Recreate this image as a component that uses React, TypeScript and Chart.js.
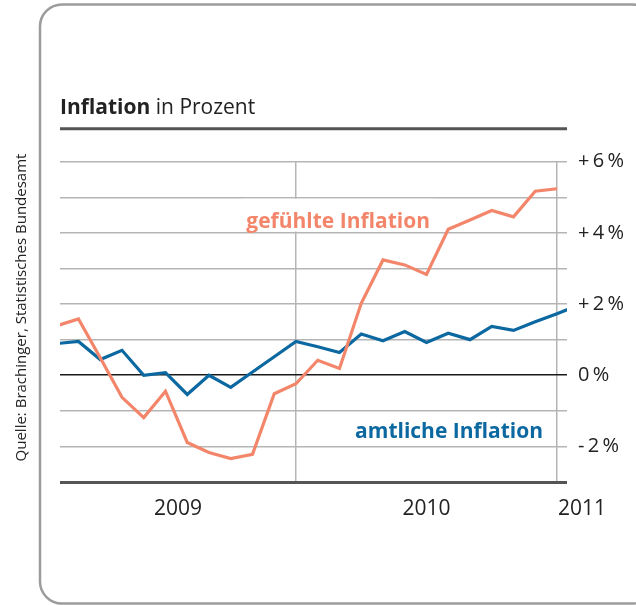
import React, { useEffect, useRef } from 'react';
import { Chart, registerables } from 'chart.js';

Chart.register(...registerables);

// ---- data ----
const months = [
  'Jan 2009', 'Feb 2009', 'Mär 2009', 'Apr 2009', 'Mai 2009', 'Jun 2009',
  'Jul 2009', 'Aug 2009', 'Sep 2009', 'Okt 2009', 'Nov 2009', 'Dez 2009',
  'Jan 2010', 'Feb 2010', 'Mär 2010', 'Apr 2010', 'Mai 2010', 'Jun 2010',
  'Jul 2010', 'Aug 2010', 'Sep 2010', 'Okt 2010', 'Nov 2010', 'Dez 2010',
  'Jan 2011',
];

const amtlicheInflation = [
  0.89, 0.95, 0.44, 0.70, 0.0, 0.07, -0.54, 0.0, -0.34, 0.09, 0.52, 0.95,
  0.80, 0.64, 1.16, 0.97, 1.23, 0.92, 1.18, 1.0, 1.37, 1.26, 1.50, 1.73, 1.97,
];

const gefuehlteInflation = [
  1.39, 1.58, 0.49, -0.62, -1.19, -0.45, -1.89, -2.17, -2.34, -2.22, -0.52, -0.24,
  0.42, 0.19, 2.02, 3.24, 3.10, 2.83, 4.10, 4.36, 4.63, 4.45, 5.17, 5.24,
];

const yTickValues = [6, 4, 2, 0, -2];
const yTickLabels = ['+6%', '+4%', '+2%', '0%', '-2%'];

const yearLabels = ['2009', '2010', '2011'];
const yearBoundaries = [11, 23]; // month indices of vertical year lines

const titleBold = 'Inflation';
const titleRest = ' in Prozent';
const sourceText = 'Quelle: Brachinger, Statistisches Bundesamt';
const labelGefuehlt = 'gefühlte Inflation';
const labelAmtlich = 'amtliche Inflation';

// ---- style ----
const ORANGE = '#F3866A';
const BLUE = '#0B68A0';
const GRID = '#b5b5b5';
const DARK = '#222222';
const FONT = '"Open Sans", "Noto Sans", sans-serif';

const X_MIN = 0.15;
const X_MAX = 23.46;

const spaced = (s: string) => s.split('').join('\u2009');

const decorPlugin = {
  id: 'decor',
  beforeDraw(chart: any) {
    const { ctx, chartArea: a } = chart;
    ctx.save();
    ctx.fillStyle = '#ffffff';
    ctx.fillRect(0, 0, chart.width, chart.height);

    // rounded frame
    ctx.strokeStyle = '#9c9c9c';
    ctx.lineWidth = 2.5;
    ctx.beginPath();
    (ctx as any).roundRect(40, 4.5, 614, 599, 22);
    ctx.stroke();

    // title
    ctx.fillStyle = DARK;
    ctx.textBaseline = 'alphabetic';
    ctx.textAlign = 'left';
    ctx.font = `bold 21px ${FONT}`;
    ctx.fillText(titleBold, a.left, a.top - 48);
    const w = ctx.measureText(titleBold).width;
    ctx.font = `21px ${FONT}`;
    ctx.fillText(titleRest, a.left + w, a.top - 48);

    // title rule
    ctx.strokeStyle = '#555555';
    ctx.lineWidth = 3;
    ctx.beginPath();
    ctx.moveTo(a.left, a.top - 33);
    ctx.lineTo(a.right, a.top - 33);
    ctx.stroke();

    // source, rotated
    ctx.translate(22, 307.5);
    ctx.rotate(-Math.PI / 2);
    ctx.font = `15px ${FONT}`;
    ctx.textAlign = 'center';
    ctx.textBaseline = 'middle';
    ctx.fillStyle = DARK;
    ctx.fillText(sourceText, 0, 0);
    ctx.restore();
  },
  beforeDatasetsDraw(chart: any) {
    const { ctx } = chart;
    const xs = chart.scales.x;
    const ys = chart.scales.y;
    ctx.save();
    ctx.font = `bold 21px ${FONT}`;
    ctx.textAlign = 'right';
    ctx.textBaseline = 'alphabetic';

    // gefühlte label with white box
    const gx = xs.getPixelForValue(17.16);
    const gy = ys.getPixelForValue(4.14);
    const gw = ctx.measureText(labelGefuehlt).width;
    const boxTop = ys.getPixelForValue(5) + 1.5;
    const boxBot = ys.getPixelForValue(4) - 1.5;
    ctx.fillStyle = '#ffffff';
    ctx.fillRect(gx - gw - 4, boxTop, gw + 8, boxBot - boxTop);
    ctx.fillStyle = ORANGE;
    ctx.fillText(labelGefuehlt, gx, gy);

    // amtliche label
    const ax = xs.getPixelForValue(22.36);
    const ay = ys.getPixelForValue(-1.76);
    ctx.fillStyle = BLUE;
    ctx.fillText(labelAmtlich, ax, ay);
    ctx.restore();
  },
  afterDraw(chart: any) {
    const { ctx } = chart;
    const xs = chart.scales.x;
    const a = chart.chartArea;
    ctx.save();
    ctx.font = `21px ${FONT}`;
    ctx.fillStyle = DARK;
    ctx.textBaseline = 'alphabetic';
    const bounds = [X_MIN, ...yearBoundaries];
    yearLabels.forEach((lab, i) => {
      const from = bounds[i];
      const to = bounds[i + 1];
      if (to !== undefined) {
        ctx.textAlign = 'center';
        ctx.fillText(lab, xs.getPixelForValue((from + to) / 2), a.bottom + 33);
      } else {
        ctx.textAlign = 'left';
        ctx.fillText(lab, xs.getPixelForValue(from) + 1, a.bottom + 33);
      }
    });
    ctx.restore();
  },
};

export default function App() {
  const ref = useRef<HTMLCanvasElement | null>(null);

  useEffect(() => {
    if (!ref.current) return;
    const chart = new Chart(ref.current, {
      type: 'line',
      data: {
        datasets: [
          {
            label: labelGefuehlt,
            data: gefuehlteInflation.map((v, i) => ({ x: i, y: v })),
            borderColor: ORANGE,
            borderWidth: 3.2,
            pointRadius: 0,
            tension: 0,
            clip: 0,
          },
          {
            label: labelAmtlich,
            data: amtlicheInflation.map((v, i) => ({ x: i, y: v })),
            borderColor: BLUE,
            borderWidth: 3.2,
            pointRadius: 0,
            tension: 0,
            clip: 0,
          },
        ],
      },
      options: {
        animation: false,
        responsive: false,
        devicePixelRatio: 1,
        layout: { padding: { left: 60, top: 161.7, bottom: 123, right: 0 } },
        plugins: {
          legend: { display: false },
          tooltip: { enabled: false },
          title: { display: false },
        },
        scales: {
          x: {
            type: 'linear',
            min: X_MIN,
            max: X_MAX,
            afterBuildTicks: (s: any) => {
              s.ticks = yearBoundaries.map((v) => ({ value: v }));
            },
            afterFit: (s: any) => {
              s.height = 0;
            },
            ticks: { display: false },
            grid: { color: GRID, lineWidth: 1.5, drawTicks: false },
            border: { display: false },
          },
          y: {
            type: 'linear',
            position: 'right',
            min: -3,
            max: 6,
            afterFit: (s: any) => {
              s.width = 69;
            },
            ticks: {
              stepSize: 1,
              padding: 11,
              color: DARK,
              font: { family: FONT, size: 20 },
              callback: (value: any) => {
                const k = yTickValues.indexOf(Number(value));
                return k >= 0 ? spaced(yTickLabels[k]) : '';
              },
            },
            grid: {
              drawTicks: false,
              color: (c: any) =>
                c.tick.value === 0 ? '#1a1a1a' : c.tick.value === -3 ? '#555555' : GRID,
              lineWidth: (c: any) => (c.tick.value === -3 ? 3 : 1.5),
            },
            border: { display: false },
          },
        },
      },
      plugins: [decorPlugin],
    } as any);
    return () => chart.destroy();
  }, []);

  return (
    <div style={{ position: 'absolute', left: 0, top: 0, width: 636, height: 605 }}>
      <canvas ref={ref} width={636} height={605} style={{ display: 'block' }} />
    </div>
  );
}
